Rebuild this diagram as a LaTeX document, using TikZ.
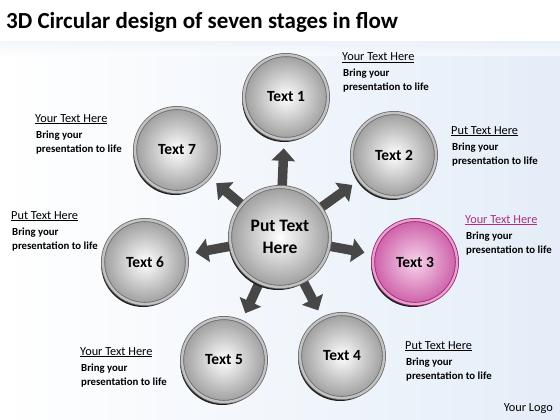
\documentclass[tikz,border=0pt]{standalone}
\usepackage{fontspec}
\setmainfont{Carlito}
\usetikzlibrary{arrows.meta,shadows}
\pgfdeclarelayer{bg}
\pgfdeclarelayer{arrowlayer}
\pgfsetlayers{bg,arrowlayer,main}
\definecolor{pinkin}{RGB}{247,212,236}
\definecolor{pinkout}{RGB}{205,95,168}
\definecolor{pinkrim}{RGB}{150,40,112}
\definecolor{pinkdouble}{RGB}{232,160,208}
\definecolor{pinkhead}{RGB}{176,48,128}
\definecolor{bgblue}{RGB}{228,237,248}
\newcommand\stagelabel[5]{%
  \node[headtxt, text=#5, anchor=base west] (#1h) at (#2,#3) {\underline{#4}};
  \node[bodytxt, anchor=base west] (#1b) at ({#2+1},{#3+16}) {Bring your};
  \node[bodytxt, anchor=base west] (#1c) at ({#2+1},{#3+30}) {presentation to life};
}
\begin{document}
\begin{tikzpicture}[x=1pt,y=-1pt,
  stage/.style={circle, minimum size=84pt, inner sep=0pt,
    font=\bfseries\fontsize{15.5}{18}\selectfont,
    draw=black!58, line width=0.8pt, double=black!24, double distance=2.4pt,
    inner color=white, outer color=black!38,
    general shadow={fill=black!88, shadow xshift=-1.8pt, shadow yshift=-3pt}},
  hub/.style={stage, minimum size=100pt, align=center,
    font=\bfseries\fontsize{17.5}{22}\selectfont},
  pinkstage/.style={stage, draw=pinkrim, double=pinkdouble,
    inner color=pinkin, outer color=pinkout},
  arrowlink/.style={line width=9.5pt, draw=black!72,
    -{Triangle[length=12.5pt,width=23pt]}, shorten >=9pt, shorten <=-4pt},
  headtxt/.style={inner sep=0pt, font=\fontsize{12.3}{14}\selectfont},
  bodytxt/.style={inner sep=0pt, font=\bfseries\fontsize{10.8}{14}\selectfont},
]
\useasboundingbox (0,0) rectangle (560,420);
\begin{pgfonlayer}{bg}
  \fill[white] (0,0) rectangle (560,420);
  \shade[left color=white, right color=bgblue] (0,42) rectangle (560,420);
  \shade[top color=bgblue!70, bottom color=white, opacity=0.6] (0,42) rectangle (560,56);
\end{pgfonlayer}

\node[font=\bfseries\fontsize{23}{26}\selectfont, anchor=base west, inner sep=0pt]
  (title) at (6,29) {3D Circular design of seven stages in flow};

\node[hub] (c) at (280,237) {Put Text\\Here};
\node[stage] (t1) at (286,97) {Text 1};
\node[stage] (t2) at (394,155) {Text 2};
\node[pinkstage] (t3) at (415,262) {Text 3};
\node[stage] (t4) at (342,356) {Text 4};
\node[stage] (t5) at (224,360) {Text 5};
\node[stage] (t6) at (145,262) {Text 6};
\node[stage] (t7) at (177,150) {Text 7};

\begin{pgfonlayer}{arrowlayer}
  \foreach \t in {t1,t2,t3,t4,t5,t6,t7}
    \draw[arrowlink] (c) -- (\t);
\end{pgfonlayer}

\stagelabel{l1}{342}{61}{Your Text Here}{black}
\stagelabel{l2}{451}{134}{Put Text Here}{black}
\stagelabel{l3}{465}{223}{Your Text Here}{pinkhead}
\stagelabel{l4}{405}{349}{Put Text Here}{black}
\stagelabel{l5}{80}{355}{Your Text Here}{black}
\stagelabel{l6}{11}{219}{Put Text Here}{black}
\stagelabel{l7}{35}{122}{Your Text Here}{black}

\node[headtxt, anchor=base east] (logo) at (553,411) {Your Logo};
\end{tikzpicture}
\end{document}
